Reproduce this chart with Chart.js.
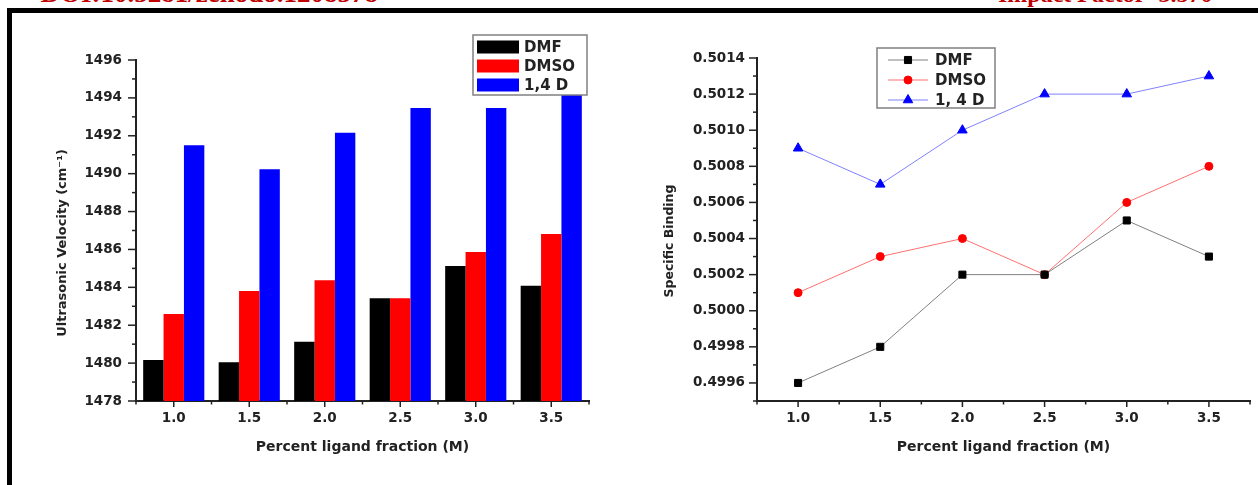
<!DOCTYPE html>
<html><head><meta charset="utf-8">
<script src="https://cdn.jsdelivr.net/npm/chart.js@4/dist/chart.umd.min.js"></script>
<style>
html,body{margin:0;padding:0;background:#fff;width:1258px;height:485px;overflow:hidden;position:relative;}
#frameTop{position:absolute;left:7px;top:8px;width:1251px;height:5px;background:#000;}
#frameLeft{position:absolute;left:7px;top:8px;width:5px;height:477px;background:#000;}
.hdr{position:absolute;font-family:'Liberation Serif',serif;font-weight:bold;color:#c00000;white-space:nowrap;}
#c1wrap{position:absolute;left:14px;top:14px;width:606px;height:466px;}
#c2wrap{position:absolute;left:620px;top:14px;width:638px;height:466px;}
canvas{display:block;}
</style></head>
<body>
<div class="hdr" style="right:880px;top:-20px;font-size:27px;line-height:27px;">DOI:10.5281/zenodo.1208578</div>
<div class="hdr" style="left:998px;top:-18px;font-size:24px;line-height:24px;">Impact Factor- 3.570</div>
<div id="frameTop"></div><div id="frameLeft"></div>
<div id="c1wrap"><canvas id="c1" width="606" height="466"></canvas></div>
<div id="c2wrap"><canvas id="c2" width="638" height="466"></canvas></div>
<script>
// ---------- DATA ----------
const categories = ['1.0', '1.5', '2.0', '2.5', '3.0', '3.5'];
const seriesNamesBar = ['DMF', 'DMSO', '1,4 D'];
const seriesNamesLine = ['DMF', 'DMSO', '1, 4 D'];
const velocityDMF  = [1480.16, 1480.05, 1481.13, 1483.43, 1485.12, 1484.08];
const velocityDMSO = [1482.59, 1483.80, 1484.38, 1483.43, 1485.86, 1486.81];
const velocity14D  = [1491.50, 1490.23, 1492.16, 1493.47, 1493.47, 1494.15];
const velocityTicks = [1478, 1480, 1482, 1484, 1486, 1488, 1490, 1492, 1494, 1496];

const ligandFraction = [1.0, 1.5, 2.0, 2.5, 3.0, 3.5];
const bindingDMF  = [0.4996, 0.4998, 0.5002, 0.5002, 0.5005, 0.5003];
const bindingDMSO = [0.5001, 0.5003, 0.5004, 0.5002, 0.5006, 0.5008];
const binding14D  = [0.5009, 0.5007, 0.5010, 0.5012, 0.5012, 0.5013];
const bindingTicks = [0.4996, 0.4998, 0.5000, 0.5002, 0.5004, 0.5006, 0.5008, 0.5010, 0.5012, 0.5014];
const fractionTicks = [1.0, 1.5, 2.0, 2.5, 3.0, 3.5];

// ---------- STYLE ----------
const FONT = "'DejaVu Sans', sans-serif";
const INK = '#222';
Chart.defaults.font.family = FONT;
Chart.defaults.color = INK;

function midpoints(arr, extendEnd) {
  const out = [];
  for (let i = 0; i < arr.length - 1; i++) out.push((arr[i] + arr[i + 1]) / 2);
  if (extendEnd) {
    const step = arr[1] - arr[0];
    out.unshift(arr[0] - step / 2);
    out.push(arr[arr.length - 1] + step / 2);
  }
  return out;
}

function seg(ctx, x1, y1, x2, y2) {
  ctx.beginPath(); ctx.moveTo(x1, y1); ctx.lineTo(x2, y2); ctx.stroke();
}

function decoPlugin(cfg) {
  return {
    id: 'deco',
    afterDraw(chart) {
      const ctx = chart.ctx, a = chart.chartArea;
      const xs = chart.scales.x, ys = chart.scales.y;
      ctx.save();
      ctx.strokeStyle = INK;
      ctx.lineWidth = 1.5;
      cfg.yMajor.forEach(v => { const p = ys.getPixelForValue(v); seg(ctx, a.left - 8, p, a.left, p); });
      cfg.yMinor.forEach(v => { const p = ys.getPixelForValue(v); seg(ctx, a.left - 4, p, a.left, p); });
      cfg.xMajor.forEach(v => { const p = xs.getPixelForValue(v); seg(ctx, p, a.bottom, p, a.bottom + 6); });
      cfg.xMinor.forEach(v => { const p = xs.getPixelForValue(v); seg(ctx, p, a.bottom, p, a.bottom + 3.5); });
      // axis titles
      ctx.fillStyle = INK;
      ctx.textAlign = 'center';
      ctx.textBaseline = 'middle';
      ctx.font = `bold ${cfg.xTitleSize}px ${FONT}`;
      ctx.fillText(cfg.xTitle, (a.left + a.right) / 2, a.bottom + cfg.xTitleDy);
      ctx.save();
      ctx.font = `bold ${cfg.yTitleSize}px ${FONT}`;
      ctx.translate(a.left - cfg.yTitleDx, (a.top + a.bottom) / 2 + cfg.yTitleDy);
      ctx.rotate(-Math.PI / 2);
      ctx.fillText(cfg.yTitle, 0, 0);
      ctx.restore();
      cfg.legend(ctx, chart);
      ctx.restore();
    }
  };
}

// ---------- LEFT: bar chart ----------
const barColors = ['#000000', '#ff0000', '#0000ff'];
const barData = [velocityDMF, velocityDMSO, velocity14D];

function barLegend(ctx, chart) {
  const bx = 459, by = 21, bw = 114, bh = 60;
  ctx.strokeStyle = '#808080'; ctx.lineWidth = 1.5;
  ctx.strokeRect(bx, by, bw, bh);
  ctx.font = `bold 15px ${FONT}`;
  ctx.textAlign = 'left'; ctx.textBaseline = 'middle';
  chart.data.datasets.forEach((ds, i) => {
    const cy = by + 12 + i * 19;
    ctx.fillStyle = ds.backgroundColor;
    ctx.fillRect(bx + 4, cy - 6.5, 42, 13);
    ctx.fillStyle = INK;
    ctx.fillText(ds.label, bx + 51, cy + 1);
  });
}

new Chart(document.getElementById('c1'), {
  type: 'bar',
  data: {
    labels: categories,
    datasets: seriesNamesBar.map((n, i) => ({
      label: n, data: barData[i], backgroundColor: barColors[i],
      borderWidth: 0,
      categoryPercentage: 0.81, barPercentage: 1.0
    }))
  },
  options: {
    responsive: false, animation: false, devicePixelRatio: 1,
    layout: { padding: { left: 0, right: 31, top: 46, bottom: 0 } },
    plugins: { legend: { display: false }, tooltip: { enabled: false } },
    scales: {
      x: {
        type: 'category', offset: true,
        grid: { display: false, drawTicks: false },
        border: { display: true, color: INK, width: 2 },
        ticks: { font: { size: 13.5, weight: 'bold' }, color: INK, padding: 9, maxRotation: 0 },
        afterFit(s) { s.height = 79; }
      },
      y: {
        min: 1478, max: 1496,
        grid: { display: false, drawTicks: false },
        border: { display: true, color: INK, width: 2 },
        ticks: { font: { size: 13.5, weight: 'bold' }, color: INK, padding: 14,
                 callback: v => String(v) },
        afterBuildTicks(s) { s.ticks = velocityTicks.map(v => ({ value: v })); },
        afterFit(s) { s.width = 122; }
      }
    }
  },
  plugins: [decoPlugin({
    yMajor: velocityTicks, yMinor: midpoints(velocityTicks, false),
    xMajor: categories.map((c, i) => i), xMinor: midpoints(categories.map((c, i) => i), true),
    xTitle: 'Percent ligand fraction (M)', xTitleSize: 14, xTitleDy: 46.5,
    yTitle: 'Ultrasonic Velocity (cm\u207B\u00B9)', yTitleSize: 13, yTitleDx: 73, yTitleDy: 12.5,
    legend: barLegend
  })]
});

// ---------- RIGHT: line chart ----------
const lineStyles = [
  { line: '#808080', point: '#000000', style: 'rect', r: 5 },
  { line: '#ff7070', point: '#ff0000', style: 'circle', r: 4 },
  { line: '#8080ff', point: '#0000ff', style: 'triangle', r: 5.5 }
];
const lineData = [bindingDMF, bindingDMSO, binding14D];

function lineLegend(ctx, chart) {
  const bx = 257, by = 34, bw = 118, bh = 60;
  ctx.strokeStyle = '#808080'; ctx.lineWidth = 1.5;
  ctx.strokeRect(bx, by, bw, bh);
  ctx.font = `bold 15px ${FONT}`;
  ctx.textAlign = 'left'; ctx.textBaseline = 'middle';
  chart.data.datasets.forEach((ds, i) => {
    const cy = by + 12 + i * 20;
    ctx.strokeStyle = ds.borderColor; ctx.lineWidth = 1;
    seg(ctx, bx + 11, cy, bx + 51, cy);
    ctx.fillStyle = ds.pointBackgroundColor; ctx.strokeStyle = ds.pointBorderColor;
    Chart.helpers.drawPoint(ctx, { pointStyle: ds.pointStyle, radius: ds.pointRadius, rotation: 0, borderWidth: 1 }, bx + 31, cy);
    ctx.fillStyle = INK;
    ctx.fillText(ds.label, bx + 58, cy + 1);
  });
}

new Chart(document.getElementById('c2'), {
  type: 'line',
  data: {
    datasets: seriesNamesLine.map((n, i) => ({
      label: n,
      data: ligandFraction.map((x, j) => ({ x: x, y: lineData[i][j] })),
      borderColor: lineStyles[i].line, borderWidth: 1,
      pointStyle: lineStyles[i].style, pointRadius: lineStyles[i].r,
      pointBackgroundColor: lineStyles[i].point, pointBorderColor: lineStyles[i].point,
      pointBorderWidth: 1, fill: false, tension: 0
    }))
  },
  options: {
    responsive: false, animation: false, devicePixelRatio: 1,
    layout: { padding: { left: 0, right: 8, top: 44, bottom: 0 } },
    plugins: { legend: { display: false }, tooltip: { enabled: false } },
    scales: {
      x: {
        type: 'linear', min: 0.75, max: 3.75,
        grid: { display: false, drawTicks: false },
        border: { display: true, color: INK, width: 2 },
        ticks: { font: { size: 13.5, weight: 'bold' }, color: INK, padding: 9, maxRotation: 0,
                 callback: v => Number(v).toFixed(1) },
        afterBuildTicks(s) { s.ticks = fractionTicks.map(v => ({ value: v })); },
        afterFit(s) { s.height = 79; }
      },
      y: {
        min: 0.4995, max: 0.5014,
        grid: { display: false, drawTicks: false },
        border: { display: true, color: INK, width: 2 },
        ticks: { font: { size: 13.5, weight: 'bold' }, color: INK, padding: 12,
                 callback: v => Number(v).toFixed(4) },
        afterBuildTicks(s) { s.ticks = bindingTicks.map(v => ({ value: v })); },
        afterFit(s) { s.width = 137; }
      }
    }
  },
  plugins: [decoPlugin({
    yMajor: bindingTicks, yMinor: midpoints(bindingTicks, false).concat([0.4995]),
    xMajor: fractionTicks, xMinor: midpoints(fractionTicks, true),
    xTitle: 'Percent ligand fraction (M)', xTitleSize: 14, xTitleDy: 46,
    yTitle: 'Specific Binding', yTitleSize: 12.5, yTitleDx: 87, yTitleDy: 11.5,
    legend: lineLegend
  })]
});
</script>
</body></html>
